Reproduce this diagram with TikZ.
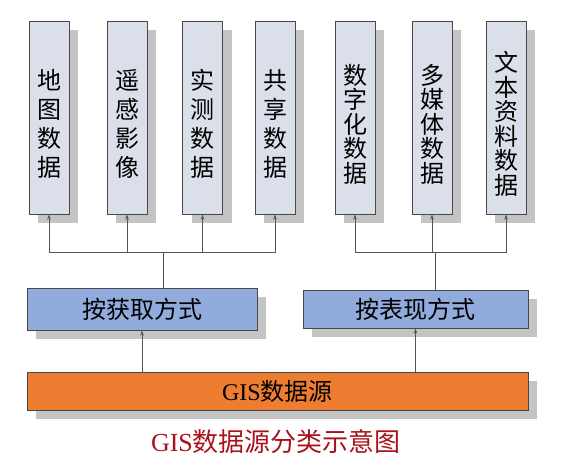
\documentclass[tikz,border=0pt]{standalone}
\usepackage{fontspec}
\setmainfont{Liberation Serif}
\newfontfamily\cjk{Noto Sans CJK SC}
\usetikzlibrary{arrows.meta,shadows}
\definecolor{vfill}{RGB}{218,223,233}
\definecolor{bfill}{RGB}{145,171,220}
\definecolor{ofill}{RGB}{237,125,49}
\definecolor{bordercol}{RGB}{72,72,72}
\definecolor{shadowcol}{RGB}{196,196,196}
\definecolor{linecol}{RGB}{85,85,85}
\definecolor{captred}{RGB}{170,18,28}
\begin{document}
\begin{tikzpicture}[x=1pt,y=-1pt,
  boxbase/.style={draw=bordercol, line width=0.95pt, inner sep=0pt,
    drop shadow={shadow xshift=9pt, shadow yshift=-9pt, fill=shadowcol, opacity=1}},
  vbox/.style={boxbase, fill=vfill, minimum width=40pt, minimum height=193pt},
  vtext/.style={font=\cjk\fontsize{24}{29}\selectfont, align=center, inner sep=0pt},
  vtextdense/.style={vtext, font=\cjk\fontsize{24}{24.5}\selectfont},
  bbox/.style={boxbase, fill=bfill, font=\cjk\fontsize{24}{28}\selectfont},
  obox/.style={boxbase, fill=ofill, font=\fontsize{24}{28}\selectfont},
  conn/.style={draw=linecol, line width=0.85pt},
  arr/.style={conn, -{Stealth[length=5pt,width=3.5pt]}}
]
\useasboundingbox (0,0) rectangle (569,466);
\fill[white] (0,0) rectangle (569,466);

% vertical boxes
\node[vbox] (b1) at (49,117.5) {};
\node[vbox] (b2) at (127,117.5) {};
\node[vbox] (b3) at (202.5,117.5) {};
\node[vbox] (b4) at (275,117.5) {};
\node[vbox] (b5) at (355,117.5) {};
\node[vbox] (b6) at (432,117.5) {};
\node[vbox] (b7) at (506,117.5) {};

\node[vtext] (t1) at ([yshift=-6.5pt]b1.center) {地\\图\\数\\据};
\node[vtext] (t2) at ([yshift=-6.5pt]b2.center) {遥\\感\\影\\像};
\node[vtext] (t3) at ([yshift=-6.5pt]b3.center) {实\\测\\数\\据};
\node[vtext] (t4) at ([yshift=-6.5pt]b4.center) {共\\享\\数\\据};
\node[vtextdense] (t5) at ([yshift=-6.5pt]b5.center) {数\\字\\化\\数\\据};
\node[vtextdense] (t6) at ([yshift=-6.5pt]b6.center) {多\\媒\\体\\数\\据};
\node[vtextdense] (t7) at ([yshift=-6.5pt]b7.center) {文\\本\\资\\料\\数\\据};

% middle boxes
\node[bbox, minimum width=230pt, minimum height=42pt] (L) at (142,309) {按获取方式};
\node[bbox, minimum width=225pt, minimum height=38pt] (R) at (415.5,309) {按表现方式};

% bottom box
\node[obox, minimum width=501pt, minimum height=38pt] (O) at (277.5,391) {GIS{\cjk 数据源}};

% caption
\node[text=captred, font=\fontsize{26}{30}\selectfont, inner sep=0pt] (cap) at (276,441.5) {GIS{\cjk 数据源分类示意图}};

% connectors
\coordinate (hl) at (163,252);
\coordinate (hr) at (435,252);
\draw[conn] (L.north -| hl) -- (hl);
\draw[conn] (R.north -| hr) -- (hr);
\foreach \b in {b1,b2,b3,b4} \draw[arr] (hl) -| (\b.south);
\foreach \b in {b5,b6,b7} \draw[arr] (hr) -| (\b.south);
\draw[arr] (O.north -| L.south) -- (L.south);
\draw[arr] (O.north -| R.south) -- (R.south);
\end{tikzpicture}
\end{document}
